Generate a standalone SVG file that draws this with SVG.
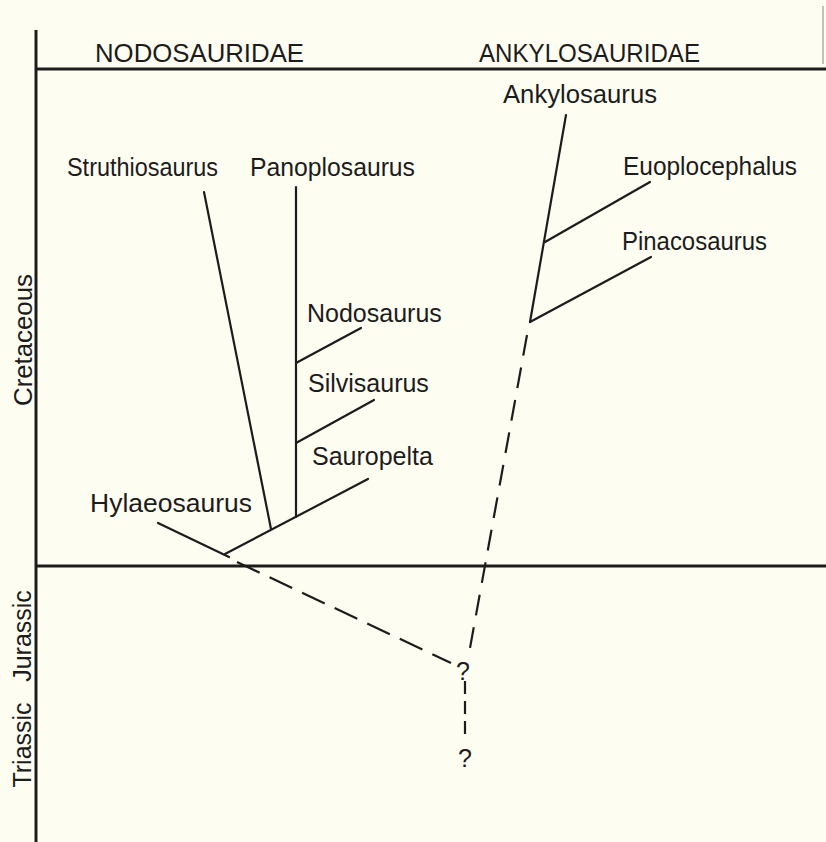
<svg xmlns="http://www.w3.org/2000/svg" width="826" height="842" viewBox="0 0 826 842">
<style>
.t{font-family:"Liberation Sans","Noto Sans",sans-serif;font-size:25px;fill:#1c1c1c}
.h{font-family:"Liberation Sans","Noto Sans",sans-serif;font-size:25px;fill:#1c1c1c}
.s{stroke:#1c1c1c;stroke-width:2.2;fill:none;stroke-linecap:round}
.d{stroke:#1c1c1c;stroke-width:2.2;fill:none}
.f{stroke:#1c1c1c;stroke-width:3;fill:none}
</style>
<rect width="826" height="842" fill="#fefdf1"/>
<g id="frame">
<line x1="823" y1="6" x2="823" y2="64" stroke="#9a9a90" stroke-width="1.2"/>
<line class="f" x1="36" y1="30" x2="36" y2="842"/>
<line class="f" x1="36" y1="69" x2="826" y2="69"/>
<line class="f" x1="36" y1="566" x2="826" y2="566"/>
<text class="h" x="95" y="62" textLength="209" lengthAdjust="spacingAndGlyphs">NODOSAURIDAE</text>
<text class="h" x="479" y="62" textLength="221" lengthAdjust="spacingAndGlyphs">ANKYLOSAURIDAE</text>
<text class="h" transform="translate(32,340) rotate(-90)" text-anchor="middle" textLength="132" lengthAdjust="spacingAndGlyphs">Cretaceous</text>
<text class="h" transform="translate(31,636) rotate(-90)" text-anchor="middle">Jurassic</text>
<text class="h" transform="translate(31,745) rotate(-90)" text-anchor="middle">Triassic</text>
</g>
<g id="connectors">
<line class="s" x1="204" y1="192" x2="271" y2="529"/>
<line class="s" x1="296" y1="187" x2="296" y2="517"/>
<line class="s" x1="296" y1="363" x2="361" y2="328"/>
<line class="s" x1="296" y1="443" x2="374" y2="400"/>
<line class="s" x1="225" y1="554" x2="368" y2="479"/>
<line class="s" x1="158" y1="523" x2="229" y2="557"/>
<line class="d" x1="237" y1="562" x2="451" y2="663" stroke-dasharray="25 11"/>
<line class="s" x1="566" y1="115" x2="530" y2="322"/>
<line class="s" x1="545" y1="242" x2="650" y2="182"/>
<line class="s" x1="530" y1="322" x2="651" y2="257"/>
<line class="d" x1="527" y1="335" x2="470" y2="648" stroke-dasharray="21 12"/>
<line class="d" x1="465" y1="681" x2="465" y2="740" stroke-dasharray="13 7"/>
</g>
<g id="nodes">
<text class="t" id="ankylosaurus" x="503" y="103" textLength="154" lengthAdjust="spacingAndGlyphs">Ankylosaurus</text>
<text class="t" id="struthiosaurus" x="67" y="176" textLength="151" lengthAdjust="spacingAndGlyphs">Struthiosaurus</text>
<text class="t" id="panoplosaurus" x="250" y="176" textLength="165" lengthAdjust="spacingAndGlyphs">Panoplosaurus</text>
<text class="t" id="euoplocephalus" x="623" y="175" textLength="174" lengthAdjust="spacingAndGlyphs">Euoplocephalus</text>
<text class="t" id="pinacosaurus" x="622" y="250" textLength="145" lengthAdjust="spacingAndGlyphs">Pinacosaurus</text>
<text class="t" id="nodosaurus" x="307" y="322">Nodosaurus</text>
<text class="t" id="silvisaurus" x="308" y="392">Silvisaurus</text>
<text class="t" id="sauropelta" x="312" y="465">Sauropelta</text>
<text class="t" id="hylaeosaurus" x="90" y="512" textLength="162" lengthAdjust="spacingAndGlyphs">Hylaeosaurus</text>
<text class="t" id="q1" x="463" y="680" text-anchor="middle">?</text>
<text class="t" id="q2" x="465" y="767" text-anchor="middle">?</text>
</g>
</svg>
